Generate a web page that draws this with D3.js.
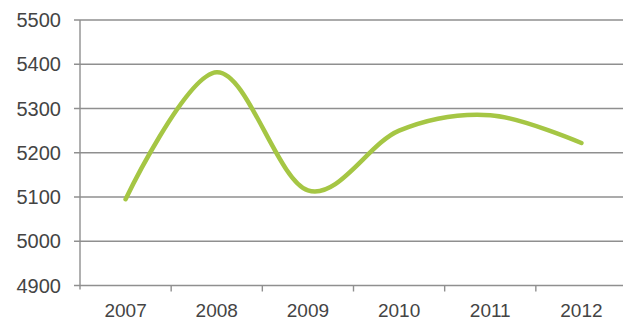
<!DOCTYPE html>
<html><head><meta charset="utf-8">
<script src="https://cdn.jsdelivr.net/npm/d3@7"></script>
<style>html,body{margin:0;padding:0;background:#fff;}svg{display:block;}</style>
</head><body>
<svg id="c" width="623" height="321"></svg>
<script>
const categories = ["2007","2008","2009","2010","2011","2012"];
const values = [5095, 5382, 5115, 5250, 5285, 5222];
const yTicks = [4900, 5000, 5100, 5200, 5300, 5400, 5500];

(function () {
const svg = d3.select("#c");
const mLeft = 80, mRight = 627, mTop = 20, mBottom = 285.5;
const x = d3.scaleBand().domain(categories).range([mLeft, mRight]);
const y = d3.scaleLinear().domain([4900, 5500]).range([mBottom, mTop]);

// gridlines
svg.append("g").selectAll("line").data(yTicks).join("line")
  .attr("x1", mLeft - 6).attr("x2", 623)
  .attr("y1", d => y(d)).attr("y2", d => y(d))
  .attr("stroke", "#8f8f8f").attr("stroke-width", 1.4);

// y axis line
svg.append("line").attr("x1", mLeft).attr("x2", mLeft)
  .attr("y1", mTop).attr("y2", mBottom + 4)
  .attr("stroke", "#8f8f8f").attr("stroke-width", 1.4);

// x axis ticks at category boundaries
const bounds = categories.slice(1).map(c => x(c));
svg.append("g").selectAll("line").data(bounds).join("line")
  .attr("x1", d => d).attr("x2", d => d)
  .attr("y1", mBottom).attr("y2", mBottom + 6)
  .attr("stroke", "#8f8f8f").attr("stroke-width", 1.4);

// y labels
svg.append("g").selectAll("text").data(yTicks).join("text")
  .attr("x", 61).attr("y", d => y(d))
  .attr("text-anchor", "end").attr("dominant-baseline", "central")
  .attr("font-family", "Liberation Sans, Arial, sans-serif")
  .attr("font-size", 20).attr("fill", "#444")
  .text(d => d);

// x labels
svg.append("g").selectAll("text").data(categories).join("text")
  .attr("x", d => x(d) + x.bandwidth() / 2).attr("y", 316.5)
  .attr("text-anchor", "middle")
  .attr("font-family", "Liberation Sans, Arial, sans-serif")
  .attr("font-size", 19).attr("fill", "#444")
  .text(d => d);

// line
const line = d3.line()
  .x((d, i) => x(categories[i]) + x.bandwidth() / 2)
  .y(d => y(d))
  .curve(d3.curveCatmullRom.alpha(0));
svg.append("path").datum(values)
  .attr("d", line)
  .attr("fill", "none").attr("stroke", "#a5c644")
  .attr("stroke-width", 4.5).attr("stroke-linecap", "round");
})();
</script>
</body></html>
